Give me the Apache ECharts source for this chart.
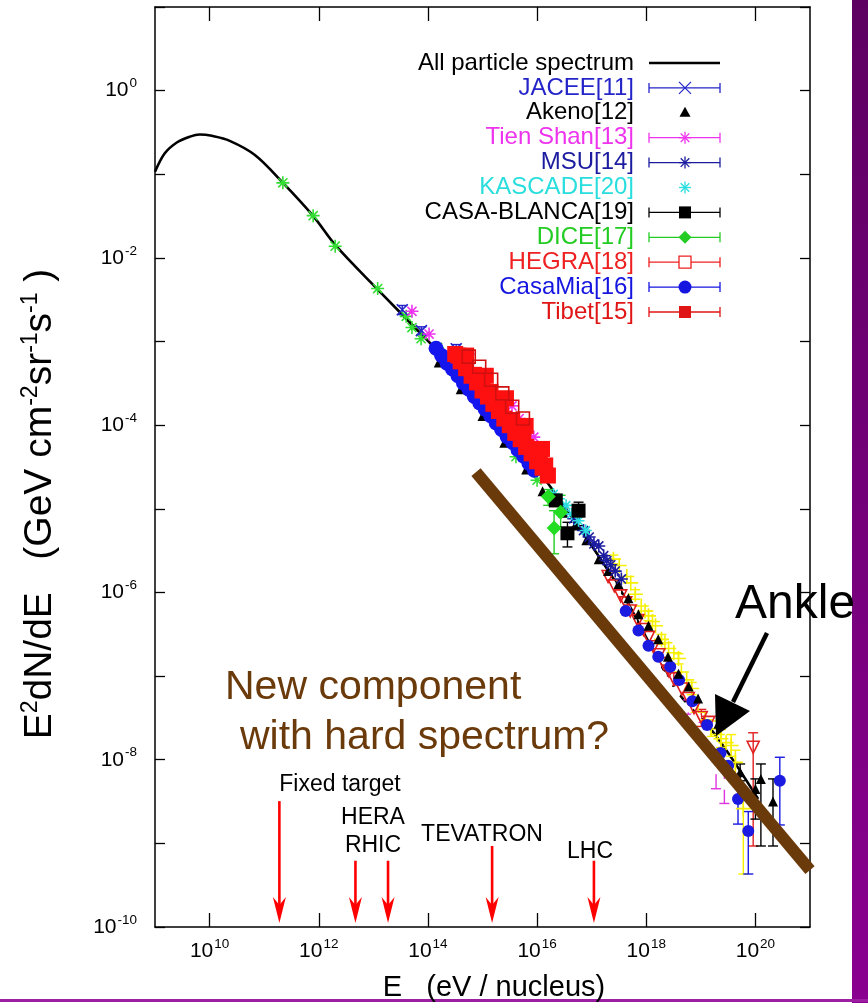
<!DOCTYPE html>
<html><head><meta charset="utf-8">
<script src="https://cdn.jsdelivr.net/npm/echarts@6/dist/echarts.min.js"></script>
<style>html,body{margin:0;padding:0;background:#fff;overflow:hidden}#c{width:868px;height:1003px}</style>
</head><body><div id="c"></div>
<script>
// ---------- data (E in eV, E^2 dN/dE in GeV cm^-2 sr^-1 s^-1) ----------
const xTicks = [1e10, 1e12, 1e14, 1e16, 1e18, 1e20];
const yTicks = [1e-10,1e-9,1e-8,1e-7,1e-6,1e-5,1e-4,1e-3,1e-2,1e-1,1e0,1e1];
const yLabels = [1e-10,1e-8,1e-6,1e-4,1e-2,1e0];

const allParticle = [[1e9,0.107],[1.51e9,0.178],[2.51e9,0.24],[4.37e9,0.282],[6.6e9,0.299],[1.1e10,0.288],[2.34e10,0.251],[6.76e10,0.17],[2.19e11,0.0794],[7.94e11,0.0316],[2.04e12,0.0141],[1.17e13,0.00427],[1.41e14,8.13e-4],[1.26e15,1.9e-4],[4.68e15,5.62e-5],[1.86e16,1.74e-5],[3.09e17,1.17e-6],[3.39e18,7.08e-8],[1.78e19,2.04e-8],[1.12e20,3.39e-9]];
const directStars = [[2.2e11,0.079],[7.9e11,0.032],[2.0e12,0.0138],[1.2e13,0.0043],[4.0e13,0.002],[5.1e13,0.00147],[7.5e13,0.00108],[1.5e14,8.5e-4],[4.1e15,4.2e-5],[1.0e16,2.2e-5]];
const jacee = [[3.39e13,2.4e-3],[7.6e13,1.35e-3],[3.3e14,8.2e-4],[5.6e14,6.2e-4]];
const jaceeErr = [[3.39e13,2.1e-3,2.7e-3],[7.6e13,1.2e-3,1.5e-3],[3.3e14,7.3e-4,9.2e-4],[5.6e14,5.5e-4,7.0e-4]];
const akeno = [[1.58e14,5.6e-4],[3.98e14,2.69e-4],[1.0e15,1.29e-4],[2.51e15,6.17e-5],[6.31e15,2.95e-5],[1.26e16,1.62e-5],[2.0e16,1.35e-5],[3.0e16,9.0e-6],[5.0e16,6.3e-6],[8.0e16,4.2e-6],[1.35e17,2.5e-6],[2.0e17,1.8e-6],[3.1e17,1.26e-6],[4.7e17,8.5e-7],[7.2e17,5.5e-7],[1.1e18,4.0e-7],[1.66e18,2.75e-7],[2.5e18,1.7e-7],[3.9e18,1.07e-7],[6.0e18,7.5e-8],[8.9e18,5.4e-8],[2.1e19,2.7e-8],[5.25e19,7.08e-9],[1.0e20,4.47e-9],[1.26e20,5.9e-9],[2.1e20,3.16e-9]];
const akenoErr = [[5.25e19,5.6e-9,8.9e-9],[1.0e20,1.95e-9,5.9e-9],[1.26e20,9.3e-10,8.9e-9],[2.1e20,9.3e-10,5.9e-9]];
const tienShan = [[5.1e13,2.3e-3],[1.05e14,1.23e-3],[3.47e15,1.7e-4],[4.7e15,1.2e-4],[8.7e15,7.2e-5]];
const msu = [[3.0e16,9.5e-6],[4.7e16,7.6e-6],[7.1e16,5.5e-6],[9.0e16,4.6e-6],[1.1e17,3.8e-6],[1.35e17,3.6e-6],[1.66e17,2.75e-6],[1.9e17,2.4e-6],[2.24e17,2.14e-6],[2.7e17,1.8e-6],[3.5e17,1.45e-6]];
const kascade = [[2.0e16,1.5e-5],[2.5e16,1.32e-5],[3.4e16,1.1e-5],[4.3e16,8.7e-6],[5.75e16,7.2e-6],[7.8e16,5.5e-6]];
const casaBlanca = [[2.2e16,1.26e-5],[3.6e16,5.1e-6],[5.75e16,9.5e-6]];
const casaBlancaErr = [[2.2e16,1.12e-5,1.41e-5],[3.6e16,3.5e-6,6.9e-6],[5.75e16,6.3e-6,1.2e-5]];
const dice = [[1.6e16,1.4e-5],[2.7e16,9.1e-6],[2.05e16,5.9e-6]];
const diceErr = [[1.6e16,1.1e-5,1.7e-5],[2.7e16,5.8e-6,1.45e-5],[2.05e16,2.9e-6,9.5e-6]];
const hegra = [[5.6e14,6.6e-4],[8.7e14,5.0e-4],[1.44e15,3.5e-4],[2.3e15,2.4e-4],[3.5e15,1.66e-4],[5.5e15,1.2e-4]];
const casaMia = [[1.41e14,8.3e-4],[1.78e14,6.8e-4],[2.24e14,5.5e-4],[2.82e14,4.7e-4],[3.55e14,3.9e-4],[4.47e14,3.2e-4],[5.62e14,2.7e-4],[7.08e14,2.2e-4],[8.91e14,1.85e-4],[1.12e15,1.55e-4],[1.41e15,1.3e-4],[1.78e15,1.06e-4],[2.24e15,8.9e-5],[2.82e15,7.3e-5],[3.55e15,6.2e-5],[4.47e15,5.1e-5],[5.62e15,4.3e-5],[7.08e15,3.5e-5],[8.91e15,2.9e-5]];
const tibet = [[3.16e14,7.1e-4],[3.98e14,5.8e-4],[5.01e14,4.8e-4],[6.31e14,3.9e-4],[7.94e14,3.25e-4],[1.0e15,2.6e-4],[1.26e15,2.2e-4],[1.58e15,1.8e-4],[2.0e15,1.48e-4],[2.51e15,1.2e-4],[3.16e15,1.0e-4],[3.98e15,8.1e-5],[5.01e15,6.8e-5],[6.31e15,5.5e-5],[7.94e15,4.6e-5],[1.0e16,3.7e-5],[1.26e16,3.1e-5],[1.58e16,2.5e-5],[5.01e14,6.8e-4],[1.15e15,3.9e-4],[2.69e15,2.1e-4],[6.17e15,9.8e-5],[1.23e16,5.2e-5],[3.6e14,6.8e-4],[7.0e14,4.0e-4],[8.9e14,3.5e-4],[1.4e15,2.5e-4],[1.8e15,2.0e-4],[2.2e15,1.75e-4],[3.5e15,1.15e-4],[4.5e15,9.2e-5],[5.6e15,7.5e-5],[8.9e15,4.9e-5],[1.12e16,4.0e-5],[1.41e16,3.3e-5]];
const yellowPts = [[2.5e17,2.5e-6],[3.2e17,2.1e-6],[4.4e17,1.55e-6],[5.2e17,1.3e-6],[6.3e17,9.5e-7],[8.1e17,6.9e-7],[9.5e17,6.0e-7],[1.1e18,5.25e-7],[1.3e18,4.5e-7],[1.48e18,4.0e-7],[1.9e18,2.75e-7],[2.2e18,2.5e-7],[2.57e18,2.14e-7],[3.2e18,1.9e-7],[3.9e18,1.62e-7],[4.4e18,1.12e-7],[5.5e18,9.0e-8],[6.8e18,7.1e-8],[8.9e18,3.7e-8],[1.2e19,3.0e-8],[1.55e19,2.34e-8],[2.0e19,2.0e-8],[2.34e19,1.78e-8],[2.9e19,1.6e-8],[3.6e19,1.48e-8],[4.3e19,9.3e-9],[6.0e19,2.6e-9]];
const yellowErr = [[2.5e17,2.2e-6,2.8e-6],[6.3e17,8.3e-7,1.08e-6],[1.1e18,4.6e-7,6.0e-7],[1.9e18,2.4e-7,3.15e-7],[3.9e18,1.4e-7,1.85e-7],[6.8e18,6.0e-8,8.4e-8],[1.55e19,1.9e-8,2.9e-8],[2.34e19,1.4e-8,2.3e-8],[3.6e19,1.1e-8,2.0e-8],[4.3e19,6.5e-9,1.3e-8],[6.0e19,4.3e-10,3.7e-9]];
const magentaPts = [[1.8e17,1.58e-6],[2.2e17,1.25e-6],[2.75e17,1.02e-6],[3.4e17,8.0e-7],[4.17e17,6.3e-7],[5.4e17,4.47e-7],[6.3e17,3.7e-7],[7.2e17,3.0e-7],[9.0e17,2.4e-7],[1.1e18,1.95e-7],[1.3e18,1.6e-7],[1.48e18,1.32e-7],[1.9e18,1.0e-7],[2.5e18,8.5e-8],[3.5e18,6.5e-8],[5.9e18,4.27e-8],[8.0e18,3.2e-8],[1.12e19,2.14e-8],[1.5e19,1.5e-8],[1.9e19,7.8e-9],[2.7e19,5.1e-9]];
const magentaErr = [[1.9e19,4.5e-9,1.2e-8],[2.7e19,3.0e-9,7.5e-9],[1.12e19,1.6e-8,2.8e-8],[5.9e18,3.5e-8,5.2e-8]];
const redTriPts = [[2.0e17,1.55e-6],[2.6e17,1.2e-6],[3.4e17,9.1e-7],[4.2e17,7.5e-7],[5.1e17,6.0e-7],[7.0e17,4.6e-7],[8.9e17,3.6e-7],[1.1e18,2.9e-7],[1.35e18,2.24e-7],[1.7e18,1.8e-7],[2.1e18,1.41e-7],[2.6e18,1.15e-7],[3.2e18,9.3e-8],[4.5e18,7.0e-8],[5.9e18,5.4e-8],[7.5e18,4.2e-8],[1.02e19,3.2e-8],[1.4e19,2.8e-8],[9.1e19,1.41e-8]];
const redTriErr = [[9.1e19,9.3e-10,2.1e-8],[1.02e19,2.5e-8,4.0e-8],[3.2e18,7.8e-8,1.1e-7]];
const blueHiPts = [[2.8e20,5.6e-9],[7.4e19,1.41e-9],[3.16e19,8.5e-9],[4.8e19,3.4e-9],[4.2e17,6.0e-7],[7.2e17,3.5e-7],[1.1e18,2.3e-7],[1.66e18,1.7e-7],[2.75e18,1.29e-7],[4.0e18,9.0e-8],[7.0e18,5.0e-8],[1.3e19,2.6e-8],[2.3e19,1.2e-8]];
const blueHiErr = [[2.8e20,1.66e-9,1.07e-8],[7.4e19,4.3e-10,2.4e-9],[4.8e19,1.7e-9,5.2e-9]];
const hardLine = [[7.6e14,2.75e-5],[1e21,4.8e-10]];
const accelNames = ['Fixed target','HERA','RHIC','TEVATRON','LHC'];
const accelArrows = [[1.9e11,3.2e-9,1.12e-10],[4.7e12,6.2e-10,1.12e-10],[1.86e13,6.2e-10,1.12e-10],[1.5e15,9.3e-10,1.12e-10],[1.1e17,6.2e-10,1.12e-10]];

const legendNames = ['All particle spectrum','JACEE[11]','Akeno[12]','Tien Shan[13]','MSU[14]','KASCADE[20]','CASA-BLANCA[19]','DICE[17]','HEGRA[18]','CasaMia[16]','Tibet[15]'];
const legendColors = ['#000000','#2424c8','#000000','#ee33ee','#1c1ca0','#2adede','#000000','#22cc22','#ee2020','#1515e0','#e01515'];
const legendMarks = ['line','x','triangle','ast','ast','ast','square','diamond','osquare','circle','square'];
const legendBars = [false,true,false,true,true,false,true,true,true,true,true];

// ---------- helpers ----------
const FONT = '"Liberation Sans", Arial, Helvetica, sans-serif';
const P_X = 'path://M0,0L10,10M10,0L0,10';
const P_AST = 'path://M5,0L5,10M0,5L10,5M1.5,1.5L8.5,8.5M8.5,1.5L1.5,8.5';
const P_PLUS = 'path://M5,0L5,10M0,5L10,5';
const P_ITRI = 'path://M0,0L10,0L5,9Z';

function sc(data, symbol, size, color, hollow, z) {
  return {type:'scatter', data, symbol, symbolSize:size, silent:true, z:z||3,
    itemStyle: hollow ? {color:'none', borderColor:color, borderWidth:1.6, opacity:1} : {color, opacity:1}};
}
function eb(data, color, z) {
  return {type:'custom', data, silent:true, z:z||2, encode:{x:0, y:[1,2]},
    renderItem(params, api) {
      const x = api.value(0);
      const a = api.coord([x, api.value(1)]), b = api.coord([x, api.value(2)]);
      const w = 5, st = {stroke:color, lineWidth:1.4};
      return {type:'group', children:[
        {type:'line', shape:{x1:a[0],y1:a[1],x2:b[0],y2:b[1]}, style:st},
        {type:'line', shape:{x1:a[0]-w,y1:a[1],x2:a[0]+w,y2:a[1]}, style:st},
        {type:'line', shape:{x1:b[0]-w,y1:b[1],x2:b[0]+w,y2:b[1]}, style:st}
      ]};
    }};
}
function tickFmt(v){ const e = Math.round(Math.log10(v)); return '10{sup|' + e + '}'; }

// ---------- legend graphic ----------
const graphic = [];
const lx1 = 649, lx2 = 720, lmx = 685;
legendNames.forEach((n, i) => {
  const y = 63 + i * 24.9, c = legendColors[i];
  graphic.push({type:'text', x:634, y, z:50, style:{text:n, fill:c, font:'24px ' + FONT, align:'right', verticalAlign:'middle'}});
  const st = {stroke:c, lineWidth:1.3};
  if (legendMarks[i] === 'line') {
    graphic.push({type:'line', z:50, shape:{x1:lx1,y1:y,x2:lx2,y2:y}, style:{stroke:'#000', lineWidth:2.6}});
    return;
  }
  if (legendBars[i]) {
    graphic.push({type:'line', z:50, shape:{x1:lx1,y1:y,x2:lx2,y2:y}, style:st});
    graphic.push({type:'line', z:50, shape:{x1:lx1,y1:y-5,x2:lx1,y2:y+5}, style:st});
    graphic.push({type:'line', z:50, shape:{x1:lx2,y1:y-5,x2:lx2,y2:y+5}, style:st});
  }
  const m = legendMarks[i], s = 6;
  if (m === 'x') {
    graphic.push({type:'line', z:51, shape:{x1:lmx-s,y1:y-s,x2:lmx+s,y2:y+s}, style:st});
    graphic.push({type:'line', z:51, shape:{x1:lmx-s,y1:y+s,x2:lmx+s,y2:y-s}, style:st});
  } else if (m === 'ast') {
    [[0,-s,0,s],[-s,0,s,0],[-4.3,-4.3,4.3,4.3],[-4.3,4.3,4.3,-4.3]].forEach(d =>
      graphic.push({type:'line', z:51, shape:{x1:lmx+d[0],y1:y+d[1],x2:lmx+d[2],y2:y+d[3]}, style:st}));
  } else if (m === 'triangle') {
    graphic.push({type:'polygon', z:51, shape:{points:[[lmx,y-6],[lmx+5.5,y+4],[lmx-5.5,y+4]]}, style:{fill:c}});
  } else if (m === 'square') {
    graphic.push({type:'rect', z:51, shape:{x:lmx-6,y:y-6,width:12,height:12}, style:{fill:c}});
  } else if (m === 'osquare') {
    graphic.push({type:'rect', z:51, shape:{x:lmx-6,y:y-6,width:12,height:12}, style:{fill:'#fff', stroke:c, lineWidth:1.3}});
  } else if (m === 'diamond') {
    graphic.push({type:'polygon', z:51, shape:{points:[[lmx,y-6.5],[lmx+6.5,y],[lmx,y+6.5],[lmx-6.5,y]]}, style:{fill:c}});
  } else if (m === 'circle') {
    graphic.push({type:'circle', z:51, shape:{cx:lmx,cy:y,r:6.5}, style:{fill:c}});
  }
});

// annotations
const BROWN = '#6b3a0b';
graphic.push({type:'text', x:735, y:605, z:60, style:{text:'Ankle', fill:'#000', font:'48px ' + FONT, verticalAlign:'middle'}});
graphic.push({type:'line', z:60, shape:{x1:767,y1:633,x2:733,y2:702}, style:{stroke:'#000', lineWidth:4.5}});
graphic.push({type:'polygon', z:60, shape:{points:[[715,694],[750,711],[716,736]]}, style:{fill:'#000'}});
graphic.push({type:'text', x:225, y:688, z:60, style:{text:'New component', fill:BROWN, font:'41px ' + FONT, verticalAlign:'middle'}});
graphic.push({type:'text', x:240, y:738, z:60, style:{text:'with hard spectrum?', fill:BROWN, font:'41px ' + FONT, verticalAlign:'middle'}});
const accelLabelPos = [[340,785],[373,818],[373,846],[482,835],[590,852]];
accelNames.forEach((n,i) => graphic.push({type:'text', x:accelLabelPos[i][0], y:accelLabelPos[i][1], z:60,
  style:{text:n, fill:'#000', font:'23px ' + FONT, align:'center', verticalAlign:'middle'}}));
// axis titles
graphic.push({type:'text', x:40, y:504, rotation:Math.PI/2, z:60, style:{
  text:'{b|E}{s|2}{b|dN/dE   (GeV cm}{s|-2}{b|sr}{s|-1}{b|s}{s|-1}{b| )}',
  align:'center', verticalAlign:'middle',
  rich:{b:{fontSize:39, fontFamily:FONT, fill:'#000', lineHeight:42}, s:{fontSize:23, fontFamily:FONT, fill:'#000', lineHeight:25, verticalAlign:'top'}}}});
graphic.push({type:'text', x:494, y:988, z:60, style:{text:'E   (eV / nucleus)', fill:'#000', font:'29px ' + FONT, align:'center', verticalAlign:'middle'}});
// slide decorations
graphic.push({type:'rect', z:0, shape:{x:852,y:0,width:16,height:1003}, style:{fill:new echarts.graphic.LinearGradient(0,0,0,1,[{offset:0,color:'#5e0062'},{offset:1,color:'#8a0090'}])}});
graphic.push({type:'rect', z:0, shape:{x:0,y:999,width:868,height:3}, style:{fill:'#9b1fa0'}});

// ---------- chart ----------
const chart = echarts.init(document.getElementById('c'), null, {renderer:'canvas'});
const axisCommon = {
  type:'log', logBase:10,
  axisLine:{show:true, onZero:false, lineStyle:{color:'#000', width:1.5}},
  splitLine:{show:false}, minorTick:{show:false}, minorSplitLine:{show:false}
};
const labelRich = {sup:{fontSize:13.5, fontFamily:FONT, color:'#000', lineHeight:16, verticalAlign:'top', padding:[0,0,0,1]}};
const option = {
  animation:false,
  backgroundColor:'#ffffff',
  grid:{left:155, right:58, top:7, bottom:76, containLabel:false, outerBoundsMode:'none'},
  xAxis:[
    Object.assign({}, axisCommon, {min:1e9, max:1e21, position:'bottom',
      axisTick:{show:true, inside:true, length:14, customValues:xTicks, lineStyle:{color:'#000', width:1.3}},
      axisLabel:{show:true, customValues:xTicks, formatter:tickFmt, margin:10, color:'#000', fontSize:21, fontFamily:FONT, lineHeight:28, rich:labelRich}}),
    Object.assign({}, axisCommon, {min:1e9, max:1e21, position:'top',
      axisTick:{show:true, inside:true, length:14, customValues:xTicks, lineStyle:{color:'#000', width:1.3}},
      axisLabel:{show:false}})
  ],
  yAxis:[
    Object.assign({}, axisCommon, {min:1e-10, max:10, position:'left',
      axisTick:{show:true, inside:true, length:10, customValues:yTicks, lineStyle:{color:'#000', width:1.3}},
      axisLabel:{show:true, customValues:yLabels, formatter:tickFmt, margin:18, color:'#000', fontSize:21, fontFamily:FONT, lineHeight:28, rich:labelRich}}),
    Object.assign({}, axisCommon, {min:1e-10, max:10, position:'right',
      axisTick:{show:true, inside:true, length:10, customValues:yTicks, lineStyle:{color:'#000', width:1.3}},
      axisLabel:{show:false}})
  ],
  graphic: graphic,
  series:[
    {type:'line', data:allParticle, smooth:0.35, symbol:'none', silent:true, z:2, lineStyle:{color:'#000', width:2.6}},
    sc(directStars, P_AST, 13, '#33dd33', true, 3),
    eb(jaceeErr, '#2424c8', 3), sc(jacee, P_X, 11, '#2424c8', true, 4),
    sc(tienShan, P_AST, 13, '#ee33ee', true, 4),
    eb(yellowErr, '#f5f000', 3), sc(yellowPts, P_PLUS, 15, '#f5f000', true, 4),
    eb(magentaErr, '#e033e0', 3), sc(magentaPts, 'emptyCircle', 11, '#e033e0', true, 5),
    eb(redTriErr, '#e02020', 3), sc(redTriPts, P_ITRI, 12, '#e02020', true, 5),
    eb(blueHiErr, '#1a1ae0', 3), sc(blueHiPts, 'circle', 12, '#1a1ae0', false, 5),
    eb(akenoErr, '#000', 4), sc(akeno, 'triangle', 10, '#000', false, 6),
    sc(msu, P_AST, 13, '#1c1ca0', true, 6),
    sc(kascade, P_AST, 12, '#2adede', true, 6),
    eb(casaBlancaErr, '#000', 6), sc(casaBlanca, 'rect', 14, '#000', false, 7),
    eb(diceErr, '#22cc22', 6), sc(dice, 'diamond', 15, '#22dd22', false, 7),
    sc(casaMia, 'circle', 15, '#1515ee', false, 7),
    sc(tibet, 'rect', 16, '#ff1010', false, 8),
    sc(hegra, 'rect', 13, '#d01010', true, 9),
    {type:'line', data:hardLine, symbol:'none', silent:true, z:20, lineStyle:{color:BROWN, width:12, cap:'butt'}},
    {type:'custom', data:accelArrows, silent:true, z:20, encode:{x:0, y:[1,2]}, clip:false,
      renderItem(params, api){
        const x = api.value(0);
        const a = api.coord([x, api.value(1)]), b = api.coord([x, api.value(2)]);
        return {type:'group', children:[
          {type:'line', shape:{x1:a[0],y1:a[1],x2:b[0],y2:b[1]-16}, style:{stroke:'#ff0000', lineWidth:2.6}},
          {type:'polygon', shape:{points:[[b[0]-6.5,b[1]-26],[b[0],b[1]-18],[b[0]+6.5,b[1]-26],[b[0],b[1]]]}, style:{fill:'#ff0000'}}
        ]};
      }}
  ]
};
chart.setOption(option);
</script></body></html>
